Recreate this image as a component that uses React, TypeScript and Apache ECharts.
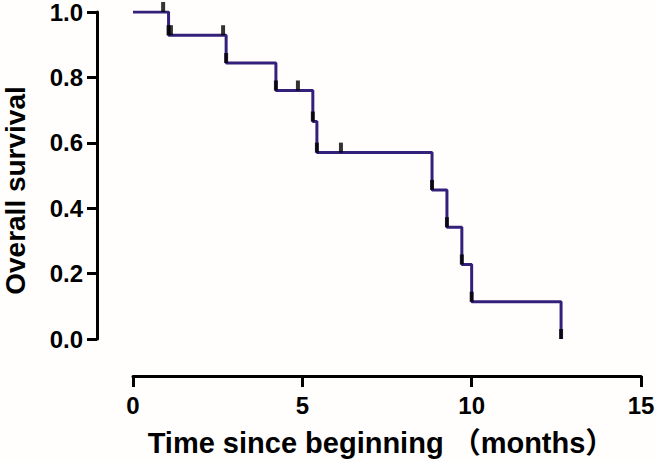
import React, { useEffect, useRef } from "react";
import * as echarts from "echarts";

// Kaplan–Meier step curve (time in months, survival proportion)
const stepTimes = [0, 1.05, 2.75, 4.22, 5.31, 5.43, 8.83, 9.27, 9.71, 10.0, 12.64];
const stepSurvival = [1.0, 0.929, 0.844, 0.76, 0.665, 0.57, 0.456, 0.342, 0.228, 0.114, 0.0];

// Censored observations
const censorTimes = [0.89, 1.12, 2.66, 4.87, 6.14];
const censorSurvival = [1.0, 0.929, 0.929, 0.76, 0.57];

const xTicks = [0, 5, 10, 15];
const yTicks = [0, 0.2, 0.4, 0.6, 0.8, 1.0];

const FONT = '"Liberation Sans", Arial, "Noto Sans CJK SC", sans-serif';

export default function App() {
  const ref = useRef<HTMLDivElement>(null);

  useEffect(() => {
    document.body.style.margin = "0";
    if (!ref.current) return;
    const chart = echarts.init(ref.current, undefined, { renderer: "svg" });

    const curve = stepTimes.map((t, i) => [t, stepSurvival[i]]);
    const eventMarks = stepTimes.slice(1).map((t, i) => [t, stepSurvival[i + 1]]);
    const censorMarks = censorTimes.map((t, i) => [t, censorSurvival[i]]);

    chart.setOption({
      animation: false,
      backgroundColor: "#fffefc",
      grid: {
        left: 133,
        right: 16,
        top: 12,
        bottom: 122,
        containLabel: false,
        outerBoundsMode: "none",
      },
      xAxis: {
        type: "value",
        min: xTicks[0],
        max: xTicks[xTicks.length - 1],
        interval: 5,
        offset: 37,
        axisLine: { show: true, onZero: false, lineStyle: { color: "#000", width: 3 } },
        axisTick: { show: true, length: 11, lineStyle: { color: "#000", width: 3 } },
        splitLine: { show: false },
        axisLabel: {
          color: "#000",
          fontFamily: FONT,
          fontWeight: "bold",
          fontSize: 24,
          margin: 17,
        },
        name: "Time since beginning （months）",
        nameLocation: "middle",
        nameGap: 52,
        nameTextStyle: {
          color: "#000",
          fontFamily: FONT,
          fontWeight: "bold",
          fontSize: 29,
          padding: [0, 12, 0, 0],
        },
      },
      yAxis: {
        type: "value",
        min: yTicks[0],
        max: yTicks[yTicks.length - 1],
        interval: 0.2,
        offset: 36,
        axisLine: { show: true, onZero: false, lineStyle: { color: "#000", width: 3 } },
        axisTick: { show: true, length: 10, lineStyle: { color: "#000", width: 3 } },
        splitLine: { show: false },
        axisLabel: {
          color: "#000",
          fontFamily: FONT,
          fontWeight: "bold",
          fontSize: 24,
          margin: 14,
          formatter: (v: number) => v.toFixed(1),
        },
        name: "Overall survival",
        nameLocation: "middle",
        nameRotate: 90,
        nameGap: 68,
        nameTextStyle: {
          color: "#000",
          fontFamily: FONT,
          fontWeight: "bold",
          fontSize: 28,
          padding: [0, 30, 0, 0],
        },
      },
      series: [
        {
          type: "line",
          step: "end",
          data: curve,
          symbol: "none",
          lineStyle: { color: "#33207a", width: 3 },
          z: 2,
        },
        {
          type: "scatter",
          data: eventMarks,
          symbol: "rect",
          symbolSize: [4, 10],
          symbolOffset: [0, -5],
          itemStyle: { color: "#000" },
          z: 3,
        },
        {
          type: "scatter",
          data: censorMarks,
          symbol: "rect",
          symbolSize: [4, 10],
          symbolOffset: [0, -5],
          itemStyle: { color: "#000" },
          z: 3,
        },
      ],
    });

    return () => chart.dispose();
  }, []);

  return (
    <div
      ref={ref}
      style={{ position: "absolute", left: 0, top: 0, width: 657, height: 461 }}
    />
  );
}
